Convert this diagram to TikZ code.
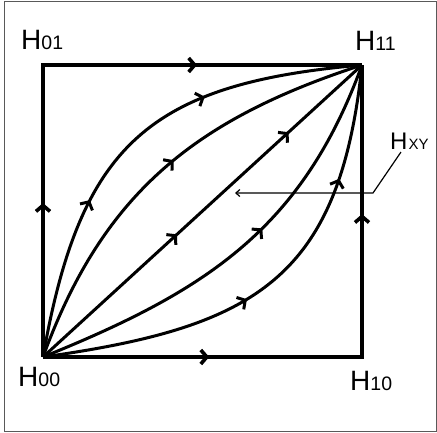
\documentclass[tikz,border=0pt]{standalone}
\usepackage{fontspec}
\setmainfont{Liberation Sans}
\usetikzlibrary{arrows.meta,decorations.markings}
\newcommand{\chevron}{\arrow{Straight Barb[length=6pt,width=14pt]}}
\newcommand{\subtxt}[1]{{\fontsize{19.5}{20}\selectfont #1}}
\tikzset{
  frame/.style={draw=black!65, line width=1pt},
  edge/.style={line width=3.6pt, line join=miter, postaction={decorate}},
  flow/.style={line width=3pt, postaction={decorate}},
  mkone/.style={decoration={markings, mark=at position #1 with {\chevron}}},
  mktwo/.style 2 args={decoration={markings,
      mark=at position #1 with {\chevron},
      mark=at position #2 with {\chevron}}},
  lbl/.style={anchor=base west, inner sep=0pt, font=\fontsize{28}{30}\selectfont},
  pointer/.style={line width=1.2pt, -{Straight Barb[length=4pt,width=7pt]}}
}
\begin{document}
\begin{tikzpicture}[x=1pt,y=-1pt]
\useasboundingbox (0,0) rectangle (437,432);
\draw[frame] (4.5,1.5) rectangle (436.5,431);

\coordinate (h00) at (43,357);
\coordinate (h01) at (43,65);
\coordinate (h11) at (362,65);
\coordinate (h10) at (362,357);

% square edges
\draw[edge, mktwo={0.252}{0.730}] (h00) -- (h01) -- (h11);
\draw[edge, mktwo={0.272}{0.756}] (h00) -- (h10) -- (h11);

% curves
\draw[flow, mktwo={0.34}{0.667}] (h00) .. controls (80.3,145.3) and (147.8,83.7) .. (h11);
\draw[flow, mkone={0.53}] (h00) .. controls (102.9,192.6) and (195.6,119.1) .. (h11);
\draw[flow, mktwo={0.42}{0.77}] (h00) -- (h11);
\draw[flow, mkone={0.57}] (h00) .. controls (205.3,291.4) and (302.1,229.4) .. (h11);
\draw[flow, mktwo={0.44}{0.76}] (h00) .. controls (255.9,327.1) and (339.5,278.8) .. (h11);

% labels
\node[lbl] (l01) at (21,49) {H\subtxt{01}};
\node[lbl] (l11) at (355,50) {H\subtxt{11}};
\node[lbl] (l00) at (18,386) {H\subtxt{00}};
\node[lbl] (l10) at (350,390) {H\subtxt{10}};
\node[anchor=base west, inner sep=0pt, font=\fontsize{24}{26}\selectfont] (lxy) at (390,149)
  {H\hspace{1pt}{\fontsize{15}{16}\selectfont XY}};

% pointer
\coordinate (pstart) at (401,152);
\coordinate (pknee) at (373,193);
\coordinate (ptip) at (235,193);
\draw[pointer] (pstart) -- (pknee) -- (ptip);
\end{tikzpicture}
\end{document}
